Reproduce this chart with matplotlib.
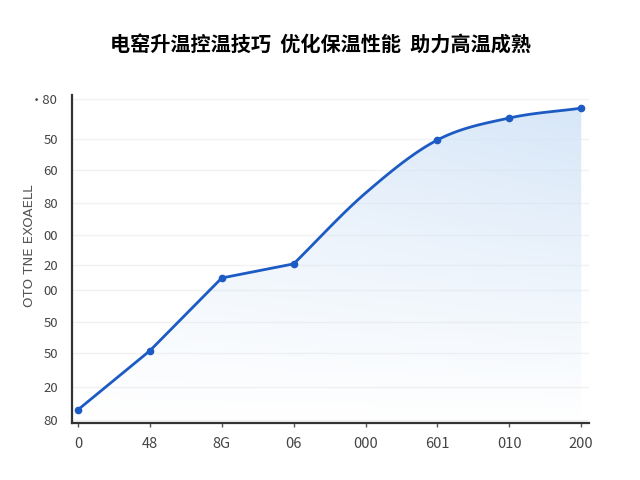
import numpy as np
import matplotlib
matplotlib.use("Agg")
from matplotlib import pyplot as plt
from matplotlib.patches import Polygon

plt.rcParams['font.family'] = ['Noto Sans CJK SC', 'DejaVu Sans']

# data
x_labels = ['0', '48', '8G', '06', '000', '601', '010', '200']
values = [4.0, 22.0, 44.2, 48.5, 70.1, 86.3, 93.0, 96.0]
has_marker = [True, True, True, True, False, True, True, True]
y_ticks = [0.9, 11.0, 21.3, 30.8, 40.5, 48.2, 57.3, 67.0, 77.1, 86.6, 98.8]
y_labels = ['80', '20', '50', '50', '00', '20', '00', '80', '60', '50', '·80']

title = '电窑升温控温技巧  优化保温性能  助力高温成熟'
y_title = 'OTO TNE EXOAELL'

line_color = '#1d5bc4'


def smooth_tail(xs, ys, start, n=20):
    # straight segments up to start, catmull-rom afterwards
    px = list(xs[:start + 1])
    py = list(ys[:start + 1])
    pts = np.column_stack([xs, ys])
    last = len(xs) - 1
    for i in range(start, last):
        p1 = pts[i]
        p2 = pts[i + 1]
        p0 = 2 * p1 - p2 if i == start else pts[i - 1]
        p3 = 2 * p2 - p1 if i + 1 == last else pts[i + 2]
        for t in np.linspace(0, 1, n)[1:]:
            t2, t3 = t * t, t * t * t
            p = 0.5 * ((2 * p1) + (-p0 + p2) * t + (2 * p0 - 5 * p1 + 4 * p2 - p3) * t2
                       + (-p0 + 3 * p1 - 3 * p2 + p3) * t3)
            px.append(p[0])
            py.append(p[1])
    return np.array(px), np.array(py)


fig = plt.figure(figsize=(6.4, 4.8), dpi=100)
ax = fig.add_axes([0.1125, 0.119, 0.808, 0.683])

xs = np.arange(len(values), dtype=float)
lx, ly = smooth_tail(xs, np.array(values), 3)

ax.set_xlim(-0.083, 7.11)
ax.set_ylim(0, 100)

# gradient fill under the curve
grad = np.zeros((100, 100, 4))
top = np.array([0.83, 0.895, 0.97])
rows = np.linspace(1, 0, 100)[:, None]
cols = np.linspace(0.55, 1, 100)[None, :]
a = np.clip(rows * cols * 0.95, 0, 1)
grad[..., 0] = top[0]
grad[..., 1] = top[1]
grad[..., 2] = top[2]
grad[..., 3] = a
im = ax.imshow(grad, extent=[0, 7, 0, 100], aspect='auto', origin='upper', zorder=1)
poly = Polygon(np.column_stack([np.r_[lx, 7, 0], np.r_[ly, 0, 0]]), closed=True,
               transform=ax.transData, facecolor='none', edgecolor='none')
ax.add_patch(poly)
im.set_clip_path(poly)

ax.plot(lx, ly, color=line_color, lw=2, zorder=3)
mx = [x for x, m in zip(xs, has_marker) if m]
my = [v for v, m in zip(values, has_marker) if m]
ax.plot(mx, my, 'o', color=line_color, ms=4.5, zorder=4)

ax.set_yticks(y_ticks)
ax.set_yticklabels(y_labels)
ax.set_xticks(xs)
ax.set_xticklabels(x_labels)
ax.grid(axis='y', color='#f1f1f1', lw=1, zorder=0)
ax.set_axisbelow(True)

for s in ['top', 'right']:
    ax.spines[s].set_visible(False)
for s in ['left', 'bottom']:
    ax.spines[s].set_color('#333333')
    ax.spines[s].set_linewidth(1.6)
ax.tick_params(axis='y', length=0, pad=10, labelsize=9.5, labelcolor='#444444')
ax.tick_params(axis='x', length=3, width=1, color='#555555', pad=7, labelsize=10.5,
               labelcolor='#444444')

ax.set_ylabel(y_title, fontsize=9.5, color='#555555', family='DejaVu Sans')
ax.yaxis.set_label_coords(-0.07, 0.54)
fig.text(0.5, 0.905, title, ha='center', va='center', fontsize=14.5, fontweight='bold')

plt.savefig('out.png', dpi=100)
